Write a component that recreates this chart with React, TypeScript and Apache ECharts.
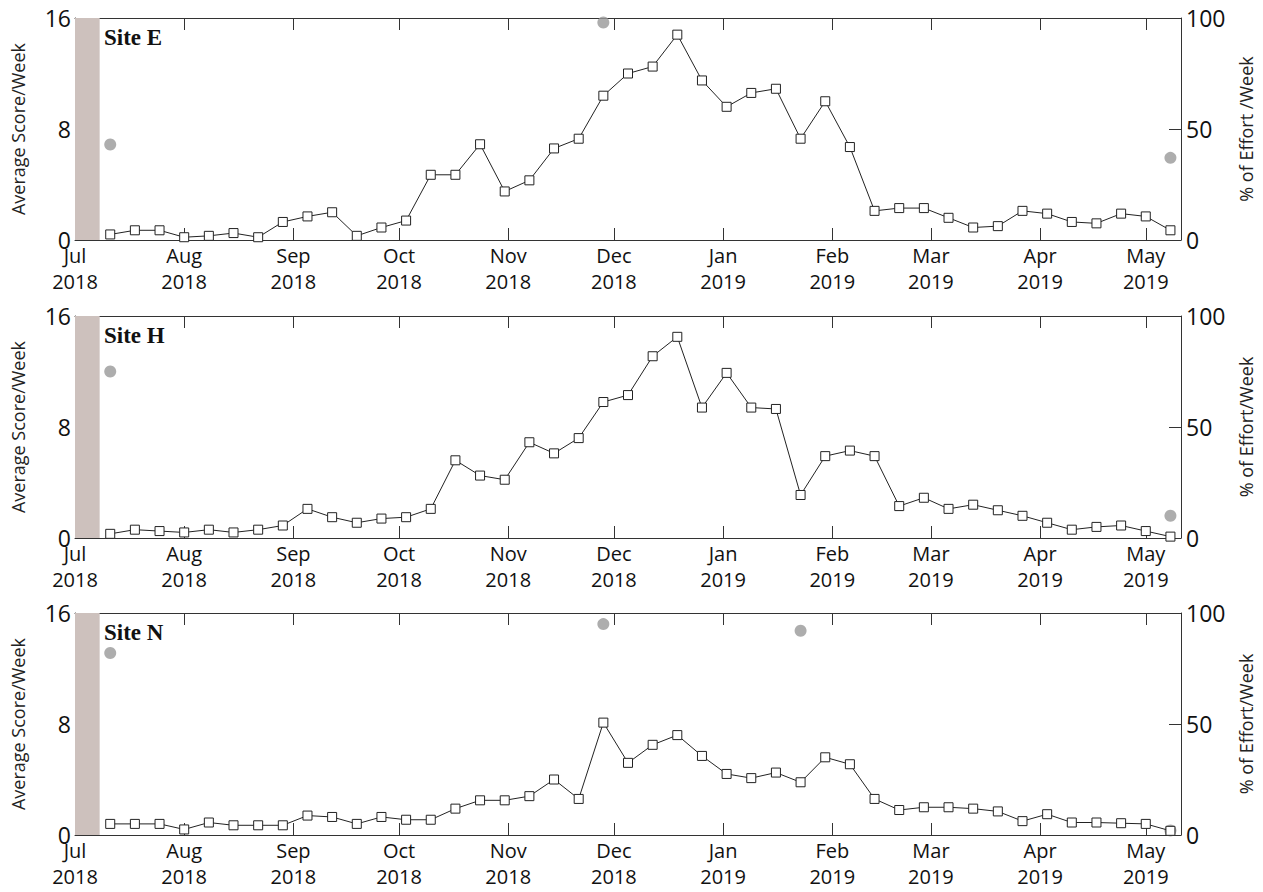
import { useEffect, useRef } from 'react';
import * as echarts from 'echarts';

// days since 1 Jul 2018
const monthDays = [0, 31, 62, 92, 123, 153, 184, 215, 243, 274, 304];
const monthNames = ['Jul', 'Aug', 'Sep', 'Oct', 'Nov', 'Dec', 'Jan', 'Feb', 'Mar', 'Apr', 'May'];
const monthYears = ['2018', '2018', '2018', '2018', '2018', '2018', '2019', '2019', '2019', '2019', '2019'];
const firstWeekDay = 10;
const lastDay = 314;

const siteNames = ['Site E', 'Site H', 'Site N'];
const effortNames = ['% of Effort /Week', '% of Effort/Week', '% of Effort/Week'];

const scoreE = [0.4, 0.7, 0.7, 0.2, 0.3, 0.5, 0.2, 1.3, 1.7, 2.0, 0.3, 0.9, 1.4, 4.7, 4.7, 6.9, 3.5, 4.3, 6.6, 7.3, 10.4, 12.0, 12.5, 14.8, 11.5, 9.6, 10.6, 10.9, 7.3, 10.0, 6.7, 2.1, 2.3, 2.3, 1.6, 0.9, 1.0, 2.1, 1.9, 1.3, 1.2, 1.9, 1.7, 0.7];
const scoreH = [0.3, 0.6, 0.5, 0.4, 0.6, 0.4, 0.6, 0.9, 2.1, 1.5, 1.1, 1.4, 1.5, 2.1, 5.6, 4.5, 4.2, 6.9, 6.1, 7.2, 9.8, 10.3, 13.1, 14.5, 9.4, 11.9, 9.4, 9.3, 3.1, 5.9, 6.3, 5.9, 2.3, 2.9, 2.1, 2.4, 2.0, 1.6, 1.1, 0.6, 0.8, 0.9, 0.5, 0.1];
const scoreN = [0.8, 0.8, 0.8, 0.4, 0.9, 0.7, 0.7, 0.7, 1.4, 1.3, 0.8, 1.3, 1.1, 1.1, 1.9, 2.5, 2.5, 2.8, 4.0, 2.6, 8.1, 5.2, 6.5, 7.2, 5.7, 4.4, 4.1, 4.5, 3.8, 5.6, 5.1, 2.6, 1.8, 2.0, 2.0, 1.9, 1.7, 1.0, 1.5, 0.9, 0.9, 0.85, 0.8, 0.3];

// [week index, % effort]
const effortE = [[0, 43], [20, 98], [43, 37]];
const effortH = [[0, 75], [43, 10]];
const effortN = [[0, 82], [20, 95], [28, 92], [43, 2]];

const scores = [scoreE, scoreH, scoreN];
const efforts = [effortE, effortH, effortN];

const font = 'Open Sans';
const gridTops = [18, 316, 613];
const gridH = 222;

export default function App() {
  const ref = useRef<HTMLDivElement>(null);

  useEffect(() => {
    document.body.style.margin = '0';
    const chart = echarts.init(ref.current!, null, { renderer: 'svg' });
    const weekDay = (i: number) => firstWeekDay + 7 * i;
    const line = { show: true, onZero: false, lineStyle: { color: '#333', width: 1 } };
    const tick = { show: true, inside: true, length: 12, lineStyle: { color: '#333' } };

    const grid: any[] = [];
    const xAxis: any[] = [];
    const yAxis: any[] = [];
    const series: any[] = [];
    const graphic: any[] = [];

    gridTops.forEach((top, p) => {
      grid.push({ left: 75, right: 78, top, height: gridH });
      const xBase = {
        type: 'value', gridIndex: p, min: 0, max: lastDay,
        axisLine: line,
        splitLine: { show: false },
        axisTick: { ...tick, customValues: monthDays },
      };
      xAxis.push({
        ...xBase, position: 'bottom',
        axisLabel: {
          customValues: monthDays, fontFamily: font, fontSize: 20, color: '#111', lineHeight: 26, margin: 2,
          formatter: (v: number) => { const k = monthDays.indexOf(v); return k < 0 ? '' : monthNames[k] + '\n' + monthYears[k]; },
        },
      });
      xAxis.push({ ...xBase, position: 'top', axisLabel: { show: false } });
      yAxis.push({
        type: 'value', gridIndex: p, min: 0, max: 16, interval: 8, position: 'left',
        name: 'Average Score/Week', nameLocation: 'middle', nameGap: 48, nameRotate: 90,
        nameTextStyle: { fontFamily: font, fontSize: 18, color: '#222' },
        axisLine: line, axisTick: tick,
        axisLabel: { fontFamily: font, fontSize: 23, color: '#111', margin: 4 },
        splitLine: { show: false },
      });
      yAxis.push({
        type: 'value', gridIndex: p, min: 0, max: 100, interval: 50, position: 'right',
        name: effortNames[p], nameLocation: 'middle', nameGap: 56, nameRotate: 90,
        nameTextStyle: { fontFamily: font, fontSize: 18, color: '#222' },
        axisLine: line, axisTick: tick,
        axisLabel: { fontFamily: font, fontSize: 23, color: '#111', margin: 5 },
        splitLine: { show: false },
      });
      series.push({
        type: 'line', xAxisIndex: 2 * p, yAxisIndex: 2 * p,
        data: scores[p].map((v, i) => [weekDay(i), v]),
        symbol: 'rect', symbolSize: 9,
        itemStyle: { color: '#fff', borderColor: '#222', borderWidth: 1 },
        lineStyle: { color: '#222', width: 1 },
        markArea: {
          silent: true,
          itemStyle: { color: '#cdc1bd' },
          data: [[{ xAxis: 0 }, { xAxis: 7 }]],
        },
        z: 3,
      });
      series.push({
        type: 'scatter', xAxisIndex: 2 * p, yAxisIndex: 2 * p + 1,
        data: efforts[p].map(([i, v]) => [weekDay(i), v]),
        symbol: 'circle', symbolSize: 12,
        itemStyle: { color: '#999' },
        z: 2,
      });
      graphic.push({
        type: 'text', left: 104, top: top + 8,
        style: { text: siteNames[p], fontFamily: 'Liberation Serif', fontWeight: 'bold', fontSize: 23, fill: '#111' },
      });
    });

    chart.setOption({ animation: false, grid, xAxis, yAxis, series, graphic });
    return () => chart.dispose();
  }, []);

  return <div ref={ref} style={{ width: 1263, height: 892 }} />;
}
